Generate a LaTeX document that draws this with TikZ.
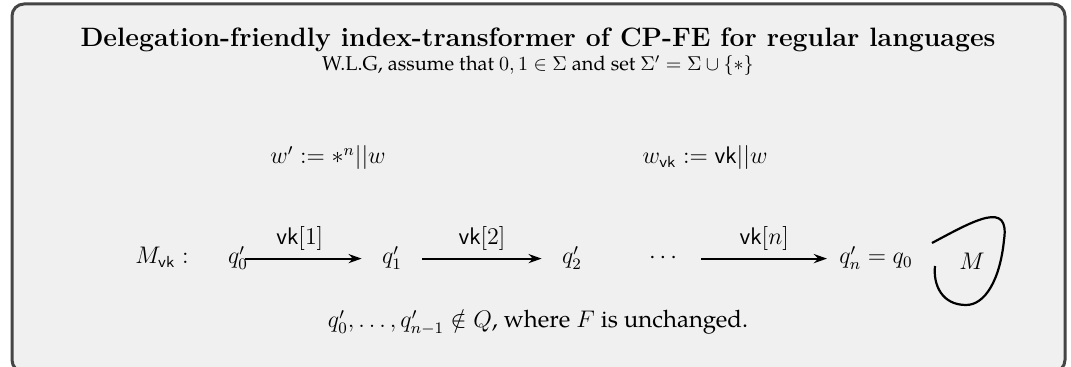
\documentclass[tikz,border=0pt]{standalone}
\usepackage{amsmath}
\usepackage{amssymb}
\usepackage{fontspec}
\newfontfamily\palfont{TeX Gyre Pagella}
\usetikzlibrary{
    positioning,
    arrows.meta
}
\definecolor{panelfill}{HTML}{F0F0F0}
\definecolor{panelrim}{HTML}{454545}

\begin{document}
\begin{tikzpicture}[
    x=0.5pt, y=0.5pt, font=\large,
    panel/.style={draw=panelrim, fill=panelfill, line width=1.5pt, rounded corners=6pt},
    statenode/.style={anchor=base, inner xsep=10pt, inner ysep=1pt, text height=1.5ex, text depth=.25ex},
    textline/.style={anchor=base, inner sep=0pt},
    arrow/.style={-{Stealth[length=2.3mm, width=1.6mm]}, line width=1.1pt}
]
\useasboundingbox (0,0) rectangle (1071,-367);
\draw[panel] (12,-4) rectangle (1065,-372);

% header
\node[textline, font=\fontsize{13.3pt}{16pt}\selectfont\bfseries] (title) at (538,-47) {Delegation-friendly index-transformer of CP-FE for regular languages};
\node[textline, font=\normalsize\palfont] (wlog) at (538,-71) {W.L.G, assume that $0,1\in\Sigma$ and set $\Sigma'=\Sigma\cup\{*\}$};

% padded words
\node[textline] (wpad) at (328,-164) {$w' := *^n||w$};
\node[textline] (wvk) at (705,-164) {$w_{\mathsf{vk}} := \mathsf{vk}||w$};

% automaton chain
\node[statenode] (mvk) at (162,-264) {$M_{\mathsf{vk}}:$};
\node[statenode] (q0) at (238,-264) {$q'_0$};
\node[statenode] (q1) at (392,-264) {$q'_1$};
\node[statenode] (q2) at (572,-264) {$q'_2$};
\node[statenode] (dots) at (665,-264) {$\cdots$};
\node[statenode, inner xsep=6pt] (qn) at (876,-264) {$q'_n = q_0$};
\node[textline] (mach) at (972,-270) {$M$};

\draw[arrow, shorten <=3.5pt] (q0.center) -- node[above] {$\mathsf{vk}[1]$} (q1);
\draw[arrow] (q1) -- node[above] {$\mathsf{vk}[2]$} (q2);
\draw[arrow] (dots) -- node[above] {$\mathsf{vk}[n]$} (qn);

% the original machine
\draw[line width=1.1pt] (932,-243) .. controls (975,-220) and (1010,-200) .. (1004,-240)
    .. controls (1000,-280) and (985,-305) .. (966,-305)
    .. controls (942,-305) and (933,-285) .. (935,-266);

\node[textline, font=\large\palfont] (note) at (538,-328) {$q'_0,\dots,q'_{n-1}\notin Q$, where $F$ is unchanged.};
\end{tikzpicture}
\end{document}
